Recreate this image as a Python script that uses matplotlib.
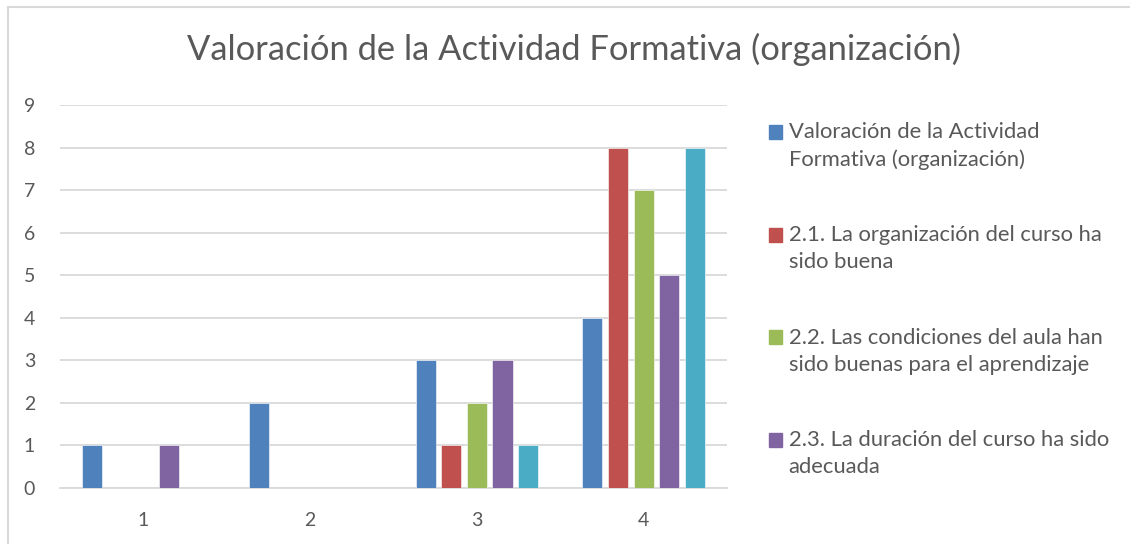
import numpy as np
import matplotlib.pyplot as plt
import matplotlib.patches as mpatches
from matplotlib.legend_handler import HandlerPatch
from matplotlib.lines import Line2D

# -----------------------------
# Data
# -----------------------------

categories = ["1", "2", "3", "4"]

series_names = [
    "Valoración de la Actividad\nFormativa (organización)",
    "2.1. La organización del curso ha\nsido buena",
    "2.2. Las condiciones del aula han\nsido buenas para el aprendizaje",
    "2.3. La duración del curso ha sido\nadecuada",
    "2.4. (serie oculta)",
]

valoracion = [1, 2, 3, 4]
organizacion = [0, 0, 1, 8]
condiciones = [0, 0, 2, 7]
duracion = [1, 0, 3, 5]
serie_5 = [0, 0, 1, 8]

all_series = [valoracion, organizacion, condiciones, duracion, serie_5]
colors = ["#4F81BD", "#C0504D", "#9BBB59", "#8064A2", "#4BACC6"]

title = "Valoración de la Actividad Formativa (organización)"

# -----------------------------
# Figure
# -----------------------------

plt.rcParams["font.family"] = ["Lato", "DejaVu Sans"]
text_color = "#595959"
grid_color = "#D9D9D9"

fig = plt.figure(figsize=(11.3, 5.44), dpi=100)
ax = fig.add_axes([0.0531, 0.1029, 0.5903, 0.7041])

x = np.arange(len(categories))
bar_w = 0.12
step = 0.1535
for i, (vals, col) in enumerate(zip(all_series, colors)):
    offset = (i - 2) * step
    ax.bar(x + offset, vals, width=bar_w, color=col,
           edgecolor="white", linewidth=0.4, zorder=3)

ax.set_xlim(-0.5, 3.5)
ax.set_ylim(0, 9)
ax.set_yticks(range(10))
ax.set_xticks(x)
ax.set_xticklabels(categories)

ax.yaxis.grid(True, color=grid_color, linewidth=1.3, zorder=0)
ax.set_axisbelow(True)
for side in ["top", "right", "left"]:
    ax.spines[side].set_visible(False)
ax.spines["bottom"].set_color(grid_color)
ax.spines["bottom"].set_linewidth(1.3)

ax.tick_params(axis="both", length=0, labelsize=14, labelcolor=text_color)
ax.tick_params(axis="x", pad=17)
ax.tick_params(axis="y", pad=18)

fig.suptitle(title, x=0.508, y=0.94, fontsize=24.8, color=text_color,
             fontweight="normal")

# -----------------------------
# Legend (first four series only, the fifth is cut off)
# -----------------------------


def top_square(legend, orig_handle, xdescent, ydescent, width, height, fontsize):
    # put the square next to the first line of a two-line label
    return mpatches.Rectangle((-xdescent, -ydescent + 0.64 * fontsize),
                              width, height)


legend_handles = [mpatches.Patch(color=c) for c in colors[:4]]
leg = fig.legend(legend_handles, series_names[:4],
                 loc="upper left", bbox_to_anchor=(0.663, 0.812),
                 frameon=False, fontsize=15.8, labelcolor=text_color,
                 handlelength=0.6, handleheight=0.6, handletextpad=0.3,
                 labelspacing=2.54,
                 handler_map={mpatches.Patch: HandlerPatch(patch_func=top_square)})
for t in leg.get_texts():
    t.set_linespacing(1.42)

# chart frame (left and top edges visible)
fig.add_artist(Line2D([0.0075, 0.0075], [0, 0.988], color="#D9D9D9",
                      linewidth=1.5, transform=fig.transFigure))
fig.add_artist(Line2D([0.0075, 1.0], [0.988, 0.988], color="#D9D9D9",
                      linewidth=1.5, transform=fig.transFigure))

plt.savefig("out.png", dpi=100)
